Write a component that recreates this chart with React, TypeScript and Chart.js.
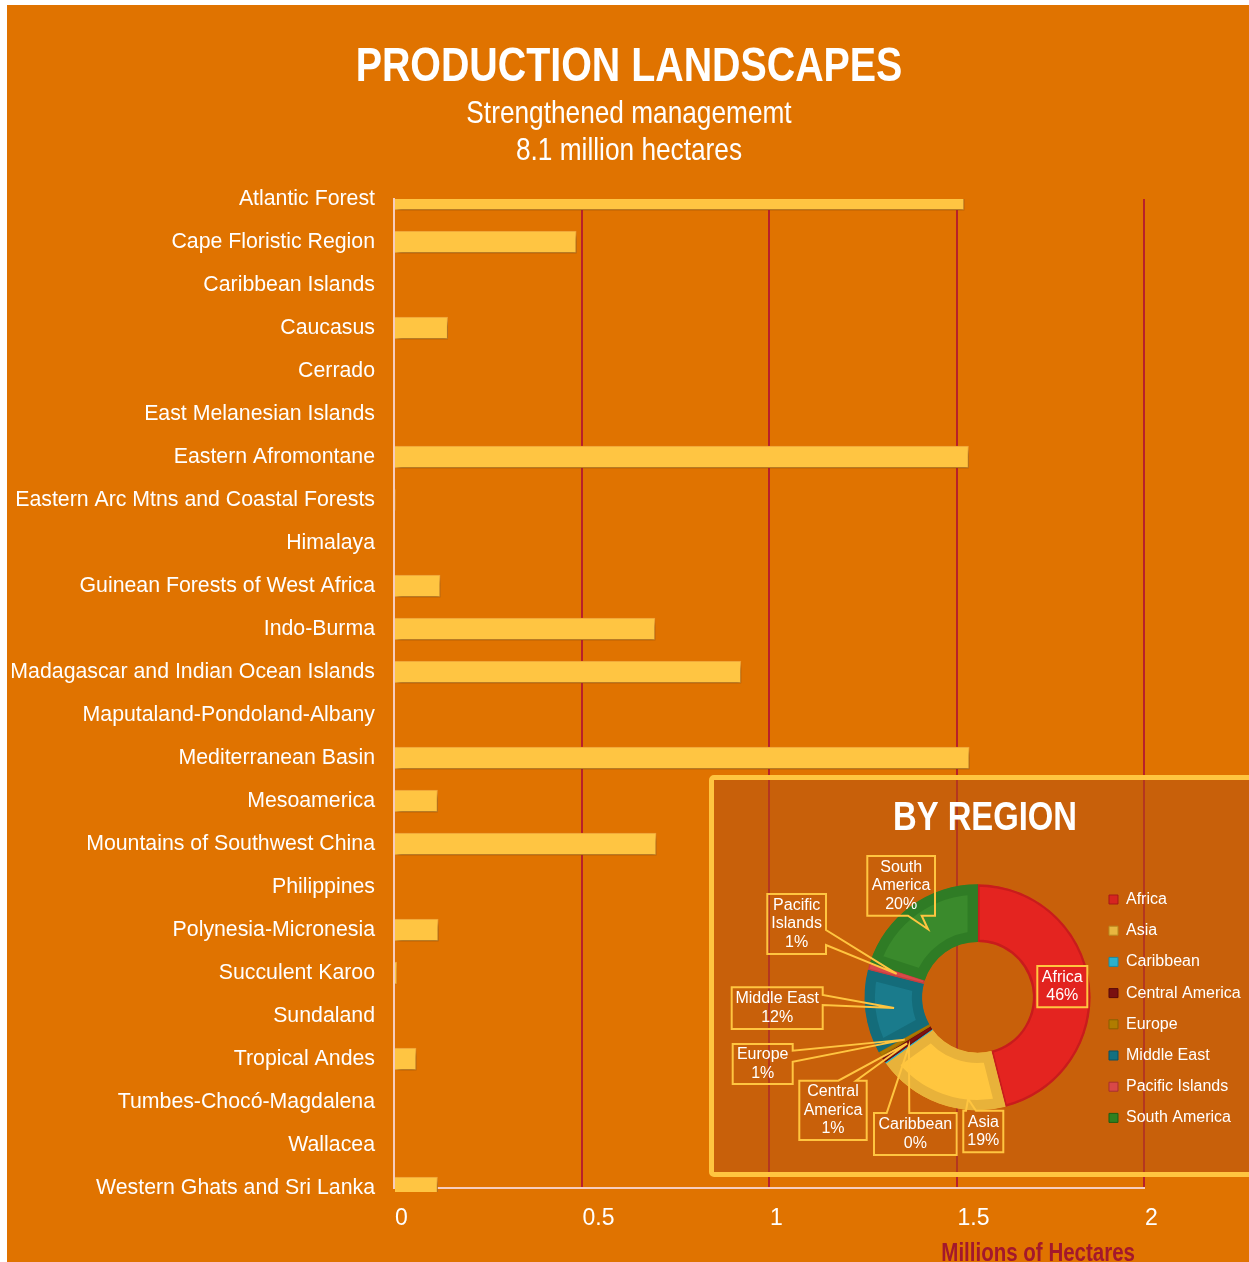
import React, { useEffect, useRef } from 'react';
import { Chart, registerables } from 'chart.js';

Chart.register(...registerables);

// ---------------- data ----------------
const chartTitle = 'PRODUCTION LANDSCAPES';
const chartSubtitle = ['Strengthened managememt', '8.1 million hectares'];
const xAxisTitle = 'Millions of Hectares';
const insetTitle = 'BY REGION';

const hotspots = [
  'Atlantic Forest',
  'Cape Floristic Region',
  'Caribbean Islands',
  'Caucasus',
  'Cerrado',
  'East Melanesian Islands',
  'Eastern Afromontane',
  'Eastern Arc Mtns and Coastal Forests',
  'Himalaya',
  'Guinean Forests of West Africa',
  'Indo-Burma',
  'Madagascar and Indian Ocean Islands',
  'Maputaland-Pondoland-Albany',
  'Mediterranean Basin',
  'Mesoamerica',
  'Mountains of Southwest China',
  'Philippines',
  'Polynesia-Micronesia',
  'Succulent Karoo',
  'Sundaland',
  'Tropical Andes',
  'Tumbes-Chocó-Magdalena',
  'Wallacea',
  'Western Ghats and Sri Lanka',
];
const hectaresMillions = [
  1.52, 0.486, 0, 0.143, 0, 0, 1.532, 0.003, 0, 0.123, 0.696, 0.925,
  0, 1.534, 0.116, 0.699, 0, 0.118, 0.007, 0, 0.059, 0, 0, 0.116,
];
const xTickValues = [0, 0.5, 1, 1.5, 2];
const xTickLabels = ['0', '0.5', '1', '1.5', '2'];

const regions = [
  'Africa',
  'Asia',
  'Caribbean',
  'Central America',
  'Europe',
  'Middle East',
  'Pacific Islands',
  'South America',
];
const regionShare = [46, 19, 0.2, 1, 0.7, 12, 1, 20];
const regionLabelLines = [
  ['Africa'],
  ['Asia'],
  ['Caribbean'],
  ['Central', 'America'],
  ['Europe'],
  ['Middle East'],
  ['Pacific', 'Islands'],
  ['South', 'America'],
];

// ---------------- styles ----------------
const SANS = '"Liberation Sans", Arial, sans-serif';
const NARROW_X = 0.82;
const BG = '#E07300';
const BAR = '#FFC542';
const YELLOW = '#FFC540';

const regionFill = ['#E42420', '#FFC63F', '#2BB3CE', '#7E1212', '#B07A00', '#1A7B8C', '#D84A4A', '#3A8A2C'];
const regionEdge = ['#C81C1C', '#E8B23A', '#2BB3CE', '#6E0E0E', '#A37000', '#146C7A', '#C83E3E', '#2F7C25'];
const regionEdgeWidth = [2, 10, 1, 1, 1, 10, 1, 10];
const legendFill = ['#D62420', '#E8B640', '#2BB0CC', '#7A1010', '#B07C00', '#137080', '#D84848', '#2E8020'];
const legendEdge = ['#A81818', '#B88A20', '#1E8AA0', '#5A0A0A', '#8A6000', '#0E5060', '#A83030', '#1E5E14'];

// callout boxes (inset canvas coords): [x, y, w, h]
const callouts = [
  { box: [323.3, 186, 50, 41.3], fill: '#E2231F' },
  { box: [249.3, 330.7, 40, 41.6], side: 'top', base: [252, 262], tipAngle: 95.3, tipRadius: 102 },
  { box: [160, 333, 82.7, 42], side: 'top', base: [172.7, 195.3] },
  { box: [85.3, 300.7, 67.4, 59.3], side: 'top', base: [124.3, 142] },
  { box: [18.7, 264, 60, 40], side: 'right', base: [270.7, 281.7] },
  { box: [17.7, 207.3, 91, 41.7], side: 'right', base: [215, 225] },
  { box: [53.3, 114, 58.7, 60], side: 'right', base: [150, 165] },
  { box: [153.3, 76, 67.7, 59.7], side: 'bottom', base: [194, 207.7] },
];

function narrowText(ctx: CanvasRenderingContext2D, text: string, x: number, y: number, font: string, color: string, align: CanvasTextAlign) {
  ctx.save();
  ctx.font = font;
  ctx.fillStyle = color;
  ctx.textAlign = align;
  ctx.textBaseline = 'middle';
  ctx.translate(x, y);
  ctx.scale(NARROW_X, 1);
  ctx.fillText(text, 0, 0);
  ctx.restore();
}

const barShadow = {
  id: 'barShadow',
  beforeDatasetDraw(chart: any) {
    const c = chart.ctx;
    c.save();
    c.shadowColor = 'rgba(85,38,0,0.6)';
    c.shadowBlur = 5;
    c.shadowOffsetX = 2;
    c.shadowOffsetY = 4;
  },
  afterDatasetDraw(chart: any) {
    chart.ctx.restore();
  },
};

const headerPlugin = {
  id: 'header',
  afterDraw(chart: any) {
    const ctx = chart.ctx;
    const cx = chart.width / 2 + 1;
    narrowText(ctx, chartTitle, cx, 63, `bold 48px ${SANS}`, '#FFFFFF', 'center');
    narrowText(ctx, chartSubtitle[0], cx, 109, `32px ${SANS}`, '#FFFFFF', 'center');
    narrowText(ctx, chartSubtitle[1], cx, 146.5, `32px ${SANS}`, '#FFFFFF', 'center');
    narrowText(ctx, xAxisTitle, chart.chartArea.right - 9, 1249, `bold 25px ${SANS}`, '#A3182C', 'right');
  },
};

const calloutPlugin = {
  id: 'callouts',
  afterDatasetsDraw(chart: any) {
    const ctx = chart.ctx;
    const meta = chart.getDatasetMeta(0);
    const values = chart.data.datasets[0].data as number[];
    const total = values.reduce((a, b) => a + b, 0);
    ctx.save();
    callouts.forEach((c: any, i: number) => {
      const el = meta.data[i];
      if (!el) return;
      const [x, y, w, h] = c.box;
      let tip: any = null;
      if (c.side) {
        if (c.tipAngle !== undefined) {
          const a = (c.tipAngle * Math.PI) / 180;
          tip = { x: el.x + c.tipRadius * Math.cos(a), y: el.y + c.tipRadius * Math.sin(a) };
        } else {
          tip = el.getCenterPoint();
        }
      }
      if (c.fill) {
        ctx.fillStyle = c.fill;
        ctx.fillRect(x, y, w, h);
      }
      const pts: number[][] = [];
      pts.push([x, y]);
      if (c.side === 'top') pts.push([c.base[0], y], [tip.x, tip.y], [c.base[1], y]);
      pts.push([x + w, y]);
      if (c.side === 'right') pts.push([x + w, c.base[0]], [tip.x, tip.y], [x + w, c.base[1]]);
      pts.push([x + w, y + h]);
      if (c.side === 'bottom') pts.push([c.base[1], y + h], [tip.x, tip.y], [c.base[0], y + h]);
      pts.push([x, y + h]);
      ctx.beginPath();
      pts.forEach((p, k) => (k ? ctx.lineTo(p[0], p[1]) : ctx.moveTo(p[0], p[1])));
      ctx.closePath();
      ctx.strokeStyle = YELLOW;
      ctx.lineWidth = 2;
      ctx.lineJoin = 'miter';
      ctx.stroke();

      const lines = [...regionLabelLines[i], Math.round((values[i] / total) * 100) + '%'];
      ctx.fillStyle = '#FFFFFF';
      ctx.font = `16px ${SANS}`;
      ctx.textAlign = 'center';
      ctx.textBaseline = 'middle';
      const cx = x + w / 2;
      const cy = y + h / 2;
      const lh = 18.5;
      lines.forEach((t, k) => {
        ctx.fillText(t, cx, cy - ((lines.length - 1) * lh) / 2 + k * lh);
      });
    });
    narrowText(ctx, insetTitle, 271, 38.5, `bold 40px ${SANS}`, '#FFFFFF', 'center');
    ctx.restore();
  },
};

export default function App() {
  const barRef = useRef<HTMLCanvasElement>(null);
  const pieRef = useRef<HTMLCanvasElement>(null);

  useEffect(() => {
    const bar = new Chart(barRef.current as HTMLCanvasElement, {
      type: 'bar',
      data: {
        labels: hotspots,
        datasets: [
          {
            data: hectaresMillions,
            backgroundColor: BAR,
            borderColor: '#F0A33A',
            borderWidth: 1,
            barThickness: 22,
            clip: { left: 0, top: 0, right: 0, bottom: 4 } as any,
          },
        ],
      },
      options: {
        indexAxis: 'y',
        responsive: false,
        animation: false,
        events: [],
        layout: { padding: { top: 194, right: 105, bottom: 0, left: 0 } },
        plugins: {
          legend: { display: false },
          tooltip: { enabled: false },
          title: { display: false },
        },
        scales: {
          x: {
            type: 'linear',
            position: 'bottom',
            min: 0,
            max: 2,
            afterBuildTicks: (s: any) => {
              s.ticks = xTickValues.map((v) => ({ value: v }));
            },
            ticks: {
              color: '#FFFFFF',
              font: { family: SANS, size: 23 },
              padding: 16.5,
              align: 'start',
              labelOffset: 1,
              callback: (_v: any, i: number) => xTickLabels[i],
            },
            grid: { color: '#B8202A', lineWidth: 2, drawTicks: false },
            border: { color: '#F7CDBE', width: 2 },
            afterFit: (s: any) => {
              s.height = 74;
            },
          } as any,
          y: {
            type: 'category',
            offset: false,
            ticks: { color: '#FFFFFF', font: { family: SANS, size: 21.3 }, padding: 19, autoSkip: false },
            grid: { display: false, drawTicks: false },
            border: { color: '#F7CDBE', width: 2 },
            afterFit: (s: any) => {
              s.width = 387;
            },
          } as any,
        },
      },
      plugins: [barShadow, headerPlugin],
    });

    const pie = new Chart(pieRef.current as HTMLCanvasElement, {
      type: 'doughnut',
      data: {
        labels: regions,
        datasets: [
          {
            data: regionShare,
            backgroundColor: regionFill,
            borderColor: regionEdge,
            borderWidth: regionEdgeWidth,
            borderAlign: 'inner',
            radius: 113,
            cutout: '49%',
          } as any,
        ],
      },
      options: {
        responsive: false,
        animation: false,
        events: [],
        layout: { padding: { left: 147.3, right: 8.3, top: 68.6, bottom: 26 } },
        plugins: {
          tooltip: { enabled: false },
          title: { display: false },
          legend: {
            position: 'right',
            align: 'start',
            fullSize: true,
            title: {
              display: true,
              text: ' ',
              font: { size: 10, lineHeight: 1 },
              padding: { top: 17.7, bottom: 0 },
            },
            labels: {
              boxWidth: 9,
              boxHeight: 9,
              padding: 15.2,
              color: '#FFFFFF',
              font: { family: SANS, size: 16 },
              generateLabels: (chart: any) => {
                const base = (Chart as any).overrides.doughnut.plugins.legend.labels.generateLabels(chart);
                return base.map((it: any, i: number) => ({
                  ...it,
                  fillStyle: legendFill[i],
                  strokeStyle: legendEdge[i],
                  lineWidth: 1,
                  fontColor: '#FFFFFF',
                }));
              },
            },
          },
        } as any,
      },
      plugins: [calloutPlugin],
    });

    return () => {
      bar.destroy();
      pie.destroy();
    };
  }, []);

  return (
    <div
      style={{
        position: 'fixed',
        left: 7,
        top: 5,
        width: 1242,
        height: 1257,
        overflow: 'hidden',
        background: BG,
      }}
    >
      <canvas ref={barRef} width={1242} height={1257} style={{ position: 'absolute', left: 0, top: 0 }} />
      <div
        style={{
          position: 'absolute',
          left: 702,
          top: 770,
          width: 560,
          height: 402,
          boxSizing: 'border-box',
          border: `5px solid ${YELLOW}`,
          borderRadius: 5,
          background: 'rgba(176,78,20,0.5)',
        }}
      >
        <canvas ref={pieRef} width={545} height={392} style={{ position: 'absolute', left: 0, top: 0 }} />
      </div>
    </div>
  );
}
